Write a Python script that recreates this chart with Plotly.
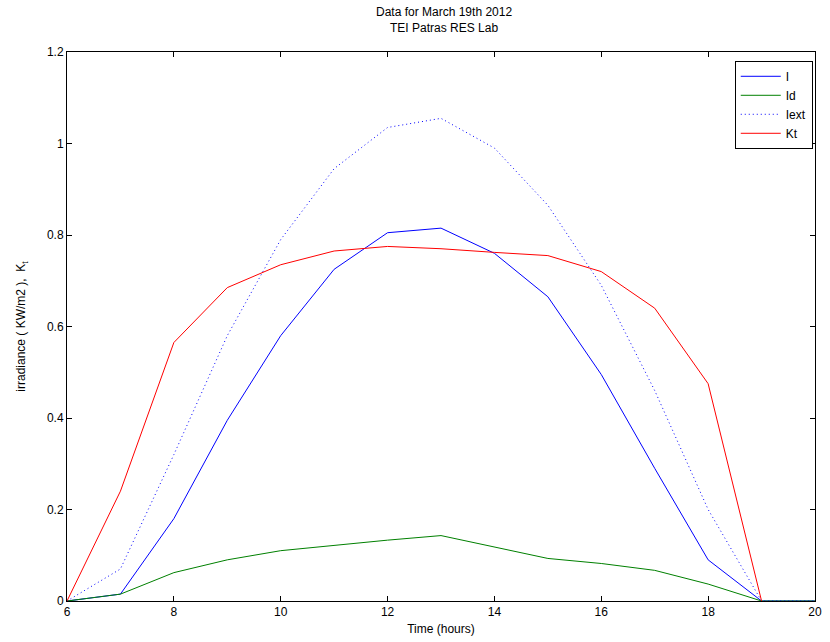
import plotly.graph_objects as go

hours = [6, 7, 8, 9, 10, 11, 12, 13, 14, 15, 16, 17, 18, 19, 20]
I_vals = [0.0, 0.015, 0.18, 0.395, 0.58, 0.725, 0.805, 0.815, 0.76, 0.665, 0.495, 0.29, 0.09, 0.0, 0.0]
Id_vals = [0.0, 0.015, 0.062, 0.09, 0.11, 0.122, 0.133, 0.143, 0.118, 0.093, 0.082, 0.067, 0.037, 0.0, 0.0]
Iext_vals = [0.0, 0.07, 0.32, 0.58, 0.79, 0.945, 1.035, 1.055, 0.99, 0.865, 0.69, 0.46, 0.2, 0.0, 0.0]
Kt_vals = [0.0, 0.24, 0.565, 0.685, 0.735, 0.765, 0.775, 0.77, 0.762, 0.755, 0.72, 0.64, 0.475, 0.0]

x_ticks = [6, 8, 10, 12, 14, 16, 18, 20]
y_ticks = [0, 0.2, 0.4, 0.6, 0.8, 1, 1.2]
y_tick_text = ["0", "0.2", "0.4", "0.6", "0.8", "1", "1.2"]

FONT = "Liberation Sans, Arial, sans-serif"

fig = go.Figure()
fig.add_trace(go.Scatter(x=hours, y=I_vals, mode="lines", name="I",
                         line=dict(color="#0000ff", width=1)))
fig.add_trace(go.Scatter(x=hours, y=Id_vals, mode="lines", name="Id",
                         line=dict(color="#008000", width=1)))
fig.add_trace(go.Scatter(x=hours, y=Iext_vals, mode="lines", name="Iext",
                         line=dict(color="#0000ff", width=1, dash="1px,3px")))
fig.add_trace(go.Scatter(x=hours[:len(Kt_vals)], y=Kt_vals, mode="lines", name="Kt",
                         line=dict(color="#ff0000", width=1)))

axis_common = dict(showgrid=False, zeroline=False, showline=True, linecolor="black",
                   linewidth=1, mirror="ticks", ticks="inside", ticklen=5,
                   tickcolor="black", tickfont=dict(family=FONT, size=12, color="black"))

fig.update_layout(
    width=830, height=642,
    paper_bgcolor="white", plot_bgcolor="white",
    margin=dict(l=67, r=8, t=52, b=36),
    font=dict(family=FONT, size=12, color="black"),
    title=dict(text="Data for March 19th 2012<br>TEI Patras RES Lab",
               x=0.535, xanchor="center", y=0.975, yanchor="top",
               font=dict(family=FONT, size=12, color="black")),
    xaxis=dict(range=[6, 20], tickvals=x_ticks,
               title=dict(text="Time (hours)", standoff=6,
                          font=dict(family=FONT, size=12)),
               **axis_common),
    yaxis=dict(range=[0, 1.2], tickvals=y_ticks, ticktext=y_tick_text,
               title=dict(text="irradiance ( KW/m2 ),  K<sub>t</sub>", standoff=18,
                          font=dict(family=FONT, size=12)),
               **axis_common),
    legend=dict(x=0.997, y=0.984, xanchor="right", yanchor="top",
                bgcolor="white", bordercolor="black", borderwidth=1,
                font=dict(family=FONT, size=12, color="black"),
                tracegroupgap=0, itemwidth=40),
    showlegend=True,
)

fig.write_html("out.html")
